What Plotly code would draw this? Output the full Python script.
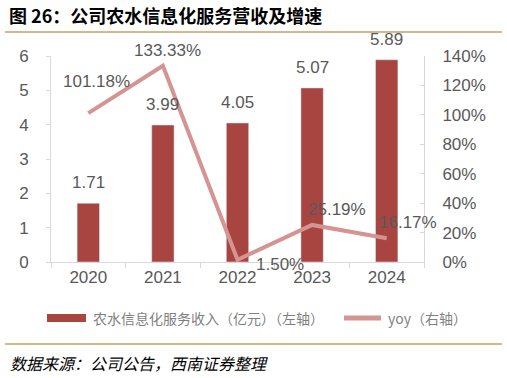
import plotly.graph_objects as go

years = ["2020", "2021", "2022", "2023", "2024"]
revenue = [1.71, 3.99, 4.05, 5.07, 5.89]          # 亿元, left axis
yoy = [101.18, 133.33, 1.50, 25.19, 16.17]        # %, right axis
y_ticks = [0, 1, 2, 3, 4, 5, 6]
y2_ticks = [0, 20, 40, 60, 80, 100, 120, 140]
y2_labels = [f"{v}%" for v in y2_ticks]

# label offsets (style)
yoy_label_shift = [(8, 32), (5, 15), (42, -5), (25, 15), (21, 16)]

BAR = "#A84541"
LINE = "#D59392"
GRAY = "#595959"
AX = "#D9D9D9"
FONT = "Liberation Sans, Arial, Noto Sans CJK SC, sans-serif"
CJK = "Noto Sans CJK SC, sans-serif"

# plot area in pixels
L, R, T, B = 51, 424, 56, 262


def px(x):
    return (x - L) / (R - L)


def py(y):
    return (B - y) / (B - T)


fig = go.Figure()
fig.add_trace(go.Bar(
    x=years, y=revenue, marker_color=BAR, width=0.3,
    name="农水信息化服务收入（亿元）（左轴）", showlegend=False,
))
fig.add_trace(go.Scatter(
    x=years, y=yoy, yaxis="y2", mode="lines",
    line=dict(color=LINE, width=4), name="yoy（右轴）", showlegend=False,
))

for i, v in enumerate(revenue):
    fig.add_annotation(x=i, y=v, xref="x", yref="y", text=f"{v:.2f}",
                       showarrow=False, yanchor="bottom", yshift=9,
                       font=dict(size=17, color=GRAY, family=FONT))

for i, (yv, (dx, dy)) in enumerate(zip(yoy, yoy_label_shift)):
    fig.add_annotation(x=i, y=yv, xref="x", yref="y2", text=f"{yv:.2f}%",
                       showarrow=False, xshift=dx, yshift=dy,
                       font=dict(size=17, color=GRAY, family=FONT))

# title
fig.add_annotation(x=px(7), y=py(15), xref="paper", yref="paper",
                   text="<b>图 26：公司农水信息化服务营收及增速</b>", showarrow=False,
                   xanchor="left", yanchor="middle",
                   font=dict(size=18, color="#000000", family=CJK))
# source
fig.add_annotation(x=px(8), y=py(363), xref="paper", yref="paper",
                   text="<i>数据来源：公司公告，西南证券整理</i>", showarrow=False,
                   xanchor="left", yanchor="middle",
                   font=dict(size=16, color="#000000", family=CJK))
# separator lines
for yy in (32, 344):
    fig.add_shape(type="line", xref="paper", yref="paper",
                  x0=px(5), x1=px(502), y0=py(yy), y1=py(yy),
                  line=dict(color="#C9A063", width=1.5))

# custom legend
fig.add_shape(type="rect", xref="paper", yref="paper",
              x0=px(47), x1=px(86), y0=py(322), y1=py(314),
              fillcolor=BAR, line=dict(width=0))
fig.add_annotation(x=px(91), y=py(318), xref="paper", yref="paper",
                   text="农水信息化服务收入（亿元）（左轴）", showarrow=False,
                   xanchor="left", yanchor="middle",
                   font=dict(size=14, color="#7F7F7F", family=CJK))
fig.add_shape(type="line", xref="paper", yref="paper",
              x0=px(344), x1=px(381), y0=py(318), y1=py(318),
              line=dict(color=LINE, width=5))
fig.add_annotation(x=px(386), y=py(318), xref="paper", yref="paper",
                   text="yoy（右轴）", showarrow=False,
                   xanchor="left", yanchor="middle",
                   font=dict(size=14, color="#7F7F7F", family=CJK))

fig.update_layout(
    width=507, height=378,
    margin=dict(l=L, r=507 - R, t=T, b=378 - B),
    paper_bgcolor="white", plot_bgcolor="white",
    showlegend=False, bargap=0.7,
    xaxis=dict(type="category", range=[-0.5, 4.5], showline=True,
               linecolor=AX, linewidth=1,
               ticks="outside", tickson="boundaries", tickcolor=AX, ticklen=5,
               tickfont=dict(size=17, color=GRAY, family=FONT),
               showgrid=False, zeroline=False),
    yaxis=dict(range=[0, 6], tickvals=y_ticks, showline=True, linecolor=AX,
               ticks="outside", tickcolor=AX, ticklen=4, showgrid=False,
               zeroline=False, tickfont=dict(size=17, color=GRAY, family=FONT),
               ticklabelstandoff=14),
    yaxis2=dict(range=[0, 140], tickvals=y2_ticks, ticktext=y2_labels,
                overlaying="y", side="right", showline=True, linecolor=AX,
                ticks="inside", tickcolor=AX, ticklen=4, showgrid=False,
                zeroline=False, tickfont=dict(size=17, color=GRAY, family=FONT),
                ticklabelstandoff=14),
)

fig.write_html("out.html", config={"displayModeBar": False},
               post_script="document.body.style.margin='0';document.body.style.overflow='hidden';")
